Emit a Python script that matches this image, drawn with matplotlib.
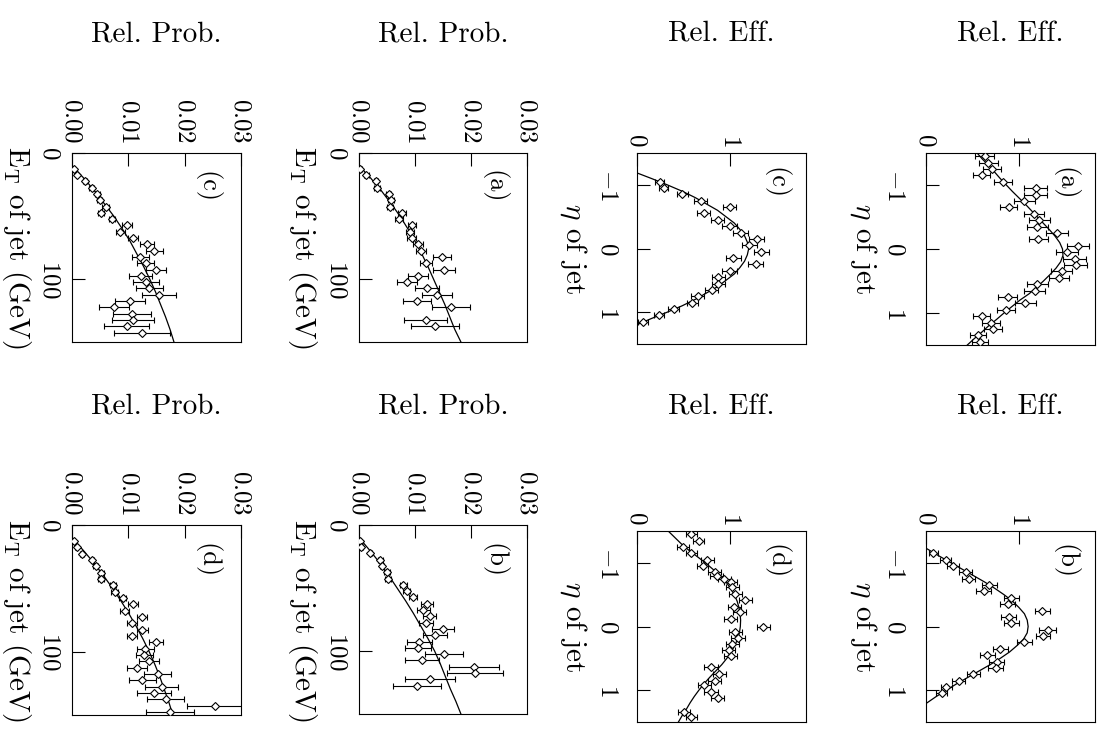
import matplotlib
matplotlib.use("Agg")
import matplotlib.pyplot as plt

plt.rcParams.update({
    "font.family": "cmr10",
    "mathtext.fontset": "cm",
    "axes.unicode_minus": False,
    "axes.linewidth": 0.8,
})

# ---------------- Relative probability vs jet E_T ----------------
prob_c_et = [12.5, 17.5, 22.5, 27.5, 32.5, 37.5, 42.5, 47.5, 52.5, 57.5, 62.5, 67.5, 72.5, 77.5,
             82.5, 87.5, 92.5, 97.5, 102.5, 107.5, 112.5, 117.5, 122.5, 127.5, 132.5, 137.5, 142.5]
prob_c = [0.0003, 0.0009, 0.0023, 0.0035, 0.0045, 0.0049, 0.0060, 0.0052, 0.0071, 0.0097, 0.0086,
          0.0109, 0.0133, 0.0146, 0.0121, 0.0131, 0.0149, 0.0122, 0.0131, 0.0137, 0.0154, 0.0103,
          0.0075, 0.0106, 0.0108, 0.0097, 0.0124]
prob_c_err = [0.0002, 0.0002, 0.0003, 0.0004, 0.0004, 0.0005, 0.0006, 0.0005, 0.0006, 0.0009, 0.0008,
              0.0009, 0.0012, 0.0015, 0.0015, 0.0015, 0.0018, 0.0020, 0.0023, 0.0024, 0.0030, 0.0027,
              0.0027, 0.0034, 0.0037, 0.0040, 0.0050]

prob_a_et = [12.5, 17.5, 22.5, 27.5, 32.5, 37.5, 42.5, 47.5, 52.5, 57.5, 62.5, 67.5, 72.5, 77.5,
             82.5, 87.5, 92.5, 97.5, 102.5, 107.5, 112.5, 117.5, 122.5, 132.5, 137.5]
prob_a = [0.0002, 0.0013, 0.0030, 0.0032, 0.0053, 0.0057, 0.0055, 0.0077, 0.0071, 0.0095, 0.0091,
          0.0094, 0.0105, 0.0110, 0.0149, 0.0120, 0.0152, 0.0106, 0.0085, 0.0121, 0.0139, 0.0103,
          0.0164, 0.0119, 0.0136]
prob_a_err = [0.0003, 0.0004, 0.0004, 0.0005, 0.0005, 0.0005, 0.0005, 0.0007, 0.0007, 0.0007, 0.0007,
              0.0008, 0.0009, 0.0009, 0.0016, 0.0011, 0.0020, 0.0018, 0.0018, 0.0021, 0.0027, 0.0025,
              0.0034, 0.0038, 0.0043]

prob_d_et = [12.5, 17.5, 22.5, 27.5, 32.5, 37.5, 42.5, 47.5, 52.5, 57.5, 62.5, 67.5, 72.5, 77.5,
             82.5, 87.5, 92.5, 97.5, 102.5, 107.5, 112.5, 117.5, 122.5, 127.5, 132.5, 137.5, 142.5, 147.5]
prob_d = [0.0003, 0.0008, 0.0018, 0.0036, 0.0042, 0.0052, 0.0052, 0.0073, 0.0076, 0.0090, 0.0108,
          0.0094, 0.0124, 0.0106, 0.0125, 0.0106, 0.0149, 0.0130, 0.0128, 0.0137, 0.0115, 0.0152,
          0.0125, 0.0159, 0.0146, 0.0166, 0.0254, 0.0174]
prob_d_err = [0.0002, 0.0002, 0.0003, 0.0003, 0.0004, 0.0004, 0.0005, 0.0005, 0.0006, 0.0006, 0.0009,
              0.0008, 0.0009, 0.0009, 0.0010, 0.0009, 0.0013, 0.0015, 0.0015, 0.0018, 0.0018, 0.0024,
              0.0024, 0.0030, 0.0030, 0.0033, 0.0050, 0.0043]

prob_b_et = [12.5, 17.5, 22.5, 27.5, 32.5, 37.5, 42.5, 47.5, 52.5, 57.5, 62.5, 67.5, 72.5, 77.5,
             82.5, 87.5, 92.5, 97.5, 102.5, 107.5, 112.5, 117.5, 122.5, 127.5]
prob_b = [0.0001, 0.0004, 0.0020, 0.0038, 0.0041, 0.0050, 0.0052, 0.0079, 0.0085, 0.0097, 0.0122,
          0.0115, 0.0126, 0.0120, 0.0150, 0.0136, 0.0108, 0.0106, 0.0152, 0.0112, 0.0205, 0.0207,
          0.0127, 0.0104]
prob_b_err = [0.0002, 0.0003, 0.0003, 0.0004, 0.0004, 0.0005, 0.0005, 0.0006, 0.0006, 0.0007, 0.0011,
              0.0011, 0.0011, 0.0012, 0.0020, 0.0021, 0.0022, 0.0023, 0.0034, 0.0030, 0.0045, 0.0050,
              0.0045, 0.0043]

# fitted curves (E_T in GeV)
fit_et = [10, 20, 30, 40, 50, 60, 70, 80, 90, 100, 110, 120, 130, 140, 150]
fit_prob_c = [0.0, 0.0021, 0.0040, 0.0057, 0.0074, 0.0089, 0.0103, 0.0115, 0.0127, 0.0138, 0.0148,
              0.0157, 0.0166, 0.0174, 0.0181]
fit_prob_a = [0.0, 0.0021, 0.0040, 0.0057, 0.0073, 0.0087, 0.0100, 0.0112, 0.0123, 0.0133, 0.0143,
              0.0153, 0.0162, 0.0171, 0.0182]
fit_prob_d = [0.0, 0.0020, 0.0039, 0.0056, 0.0072, 0.0087, 0.0101, 0.0114, 0.0126, 0.0137, 0.0147,
              0.0156, 0.0164, 0.0172, 0.0179]
fit_prob_b = [0.0, 0.0019, 0.0037, 0.0053, 0.0068, 0.0083, 0.0097, 0.0110, 0.0123, 0.0135, 0.0145,
              0.0154, 0.0163, 0.0173, 0.0182]

# ---------------- Relative efficiency vs jet eta ----------------
eff_c_eta = [-1.05, -0.95, -0.85, -0.75, -0.65, -0.55, -0.45, -0.35, -0.25, -0.15, -0.05, 0.05,
             0.15, 0.25, 0.35, 0.45, 0.55, 0.65, 0.75, 0.85, 0.95, 1.05, 1.15]
eff_c = [0.25, 0.29, 0.49, 0.69, 1.00, 0.72, 0.87, 1.00, 1.12, 1.29, 1.21, 1.34, 1.04, 1.28, 1.00,
         0.88, 0.88, 0.81, 0.66, 0.60, 0.40, 0.24, 0.07]
eff_c_err = [0.05, 0.05, 0.06, 0.07, 0.07, 0.07, 0.07, 0.08, 0.08, 0.08, 0.08, 0.08, 0.08, 0.08,
             0.08, 0.07, 0.07, 0.07, 0.07, 0.06, 0.06, 0.05, 0.05]

eff_a_eta = [-1.45, -1.35, -1.25, -1.15, -1.05, -0.95, -0.85, -0.75, -0.65, -0.55, -0.45, -0.35,
             -0.25, -0.15, -0.05, 0.05, 0.15, 0.25, 0.35, 0.45, 0.55, 0.65, 0.75, 0.85, 0.95, 1.05,
             1.15, 1.25, 1.35, 1.45]
eff_a = [0.63, 0.67, 0.71, 0.60, 0.83, 1.18, 1.18, 1.06, 0.89, 1.16, 1.22, 1.20, 1.41, 1.21, 1.64,
         1.52, 1.60, 1.61, 1.46, 1.43, 1.20, 1.17, 0.88, 1.07, 0.86, 0.60, 0.70, 0.72, 0.56, 0.58]
eff_a_err = [0.10, 0.10, 0.10, 0.09, 0.10, 0.12, 0.12, 0.11, 0.09, 0.11, 0.11, 0.11, 0.12, 0.10,
             0.12, 0.12, 0.12, 0.12, 0.11, 0.11, 0.11, 0.11, 0.10, 0.11, 0.10, 0.09, 0.10, 0.10,
             0.09, 0.09]

eff_d_eta = [-1.45, -1.35, -1.25, -1.15, -1.05, -0.95, -0.85, -0.80, -0.75, -0.70, -0.62, -0.51,
             -0.41, -0.31, -0.23, -0.11, 0.0, 0.09, 0.18, 0.28, 0.37, 0.47, 0.63, 0.74, 0.85, 0.92,
             1.03, 1.12, 1.34, 1.42]
eff_d = [0.59, 0.67, 0.50, 0.59, 0.76, 0.71, 0.84, 0.86, 0.94, 1.01, 1.03, 1.06, 1.17, 1.05, 1.11,
         1.01, 1.36, 1.06, 1.09, 1.03, 0.99, 1.01, 0.80, 0.89, 0.84, 0.73, 0.80, 0.87, 0.51, 0.59]
eff_d_err = [0.06, 0.06, 0.06, 0.06, 0.07, 0.06, 0.07, 0.07, 0.07, 0.07, 0.07, 0.07, 0.07, 0.07,
             0.07, 0.07, 0.07, 0.07, 0.07, 0.07, 0.07, 0.07, 0.07, 0.07, 0.07, 0.07, 0.07, 0.07,
             0.06, 0.06]

eff_b_eta = [-1.15, -1.05, -0.95, -0.85, -0.75, -0.65, -0.55, -0.45, -0.35, -0.25, -0.15, -0.05,
             0.05, 0.15, 0.25, 0.35, 0.45, 0.55, 0.65, 0.75, 0.85, 0.95, 1.05]
eff_b = [0.08, 0.21, 0.29, 0.43, 0.46, 0.68, 0.62, 0.92, 0.88, 1.25, 0.89, 0.92, 1.31, 1.26, 1.06,
         0.80, 0.66, 0.76, 0.75, 0.51, 0.35, 0.22, 0.17]
eff_b_err = [0.05, 0.06, 0.06, 0.07, 0.07, 0.08, 0.08, 0.08, 0.08, 0.08, 0.08, 0.08, 0.09, 0.08,
             0.08, 0.08, 0.08, 0.08, 0.08, 0.07, 0.07, 0.06, 0.06]

# fitted curves (eta)
fit_eff_c_eta = [-1.19, -1.1, -1.0, -0.9, -0.8, -0.7, -0.6, -0.5, -0.4, -0.3, -0.2, -0.1, 0.0,
                 0.1, 0.2, 0.3, 0.4, 0.5, 0.6, 0.7, 0.8, 0.9, 1.0, 1.1, 1.2]
fit_eff_c = [0.0, 0.16, 0.33, 0.49, 0.63, 0.75, 0.87, 0.96, 1.05, 1.11, 1.16, 1.19, 1.205, 1.19,
             1.16, 1.11, 1.05, 0.96, 0.87, 0.75, 0.63, 0.49, 0.33, 0.16, 0.0]

fit_eff_a_eta = [-1.5, -1.4, -1.3, -1.2, -1.1, -1.0, -0.9, -0.8, -0.7, -0.6, -0.5, -0.4, -0.3,
                 -0.2, -0.1, 0.0, 0.1, 0.2, 0.3, 0.4, 0.5, 0.6, 0.7, 0.8, 0.9, 1.0, 1.1, 1.2, 1.3,
                 1.4, 1.5]
fit_eff_a = [0.55, 0.61, 0.68, 0.74, 0.80, 0.865, 0.93, 1.00, 1.07, 1.135, 1.20, 1.265, 1.33, 1.39,
             1.44, 1.47, 1.475, 1.45, 1.40, 1.335, 1.265, 1.19, 1.11, 1.01, 0.925, 0.84, 0.76,
             0.675, 0.60, 0.52, 0.445]

fit_eff_d_eta = [-1.5, -1.4, -1.3, -1.2, -1.1, -1.0, -0.9, -0.8, -0.7, -0.6, -0.5, -0.4, -0.3,
                 -0.2, -0.1, 0.0, 0.1, 0.2, 0.3, 0.4, 0.5, 0.6, 0.7, 0.8, 0.9, 1.0, 1.1, 1.2, 1.3,
                 1.4, 1.5]
fit_eff_d = [0.34, 0.41, 0.48, 0.56, 0.65, 0.74, 0.82, 0.90, 0.96, 1.01, 1.05, 1.08, 1.10, 1.112,
             1.118, 1.115, 1.105, 1.085, 1.055, 1.015, 0.97, 0.915, 0.85, 0.785, 0.725, 0.67,
             0.62, 0.575, 0.535, 0.49, 0.45]

fit_eff_b_eta = [-1.23, -1.1, -1.0, -0.9, -0.8, -0.7, -0.6, -0.5, -0.4, -0.3, -0.2, -0.1, 0.0,
                 0.1, 0.2, 0.3, 0.4, 0.5, 0.6, 0.7, 0.8, 0.9, 1.0, 1.1, 1.21]
fit_eff_b = [0.0, 0.15, 0.27, 0.39, 0.51, 0.63, 0.74, 0.84, 0.93, 1.00, 1.06, 1.09, 1.10, 1.09,
             1.05, 0.98, 0.90, 0.80, 0.69, 0.57, 0.45, 0.33, 0.22, 0.11, 0.0]

prob_ticks = [0.0, 0.01, 0.02, 0.03]
prob_tick_labels = [r"$0.00$", r"$0.01$", r"$0.02$", r"$0.03$"]
et_ticks = [0, 100]
et_tick_labels = [r"$0$", r"$100$"]
eff_ticks = [0, 1]
eff_tick_labels = [r"$0$", r"$1$"]
eta_ticks = [-1, 0, 1]
eta_tick_labels = [r"$-1$", r"$0$", r"$1$"]

W, H = 1103, 731
fig = plt.figure(figsize=(W / 100, H / 100), dpi=100)


def box(left, top, right, bottom):
    return [left / W, 1 - bottom / H, (right - left) / W, (bottom - top) / H]


def panel(rect, xs, ys, errs, fit_x, fit_y, xlim, ylim, xticks, xlabels, yticks, ylabels,
          letter, letter_pos, xpad, ypad):
    ax = fig.add_axes(rect)
    ax.plot(fit_x, fit_y, color="black", lw=0.9, zorder=2)
    ax.errorbar(xs, ys, xerr=errs, fmt="D", ms=4, mfc="white", mec="black", mew=0.8,
                ecolor="black", elinewidth=0.8, capsize=2.4, capthick=0.8, zorder=3)
    ax.set_xlim(*xlim)
    ax.set_ylim(ylim[1], ylim[0])
    ax.xaxis.set_ticks_position("top")
    ax.yaxis.set_ticks_position("left")
    ax.set_xticks(xticks)
    ax.set_xticklabels(xlabels, rotation=-90, ha="center", va="bottom")
    ax.set_yticks(yticks)
    ax.set_yticklabels(ylabels, rotation=-90, ha="right", va="center")
    ax.tick_params(axis="x", direction="in", length=9.5, width=0.8, labelsize=18, pad=xpad)
    ax.tick_params(axis="y", direction="in", length=9.5, width=0.8, labelsize=18, pad=ypad)
    ax.text(letter_pos[0], letter_pos[1], letter, transform=ax.transAxes, rotation=-90,
            ha="center", va="center", fontsize=19)
    return ax


prob_xlim = (0.0, 0.03)
et_lim = (0, 150)
eff_xlim = (0.0, 1.82)
eta_lim = (-1.5, 1.5)

# Rel. Prob. panels
panel(box(72, 153, 241, 342), prob_c, prob_c_et, prob_c_err, fit_prob_c, fit_et,
      prob_xlim, et_lim, prob_ticks, prob_tick_labels, et_ticks, et_tick_labels,
      "(c)", (0.80, 0.82), 7, 8.5)
panel(box(359, 153, 527, 342), prob_a, prob_a_et, prob_a_err, fit_prob_a, fit_et,
      prob_xlim, et_lim, prob_ticks, prob_tick_labels, et_ticks, et_tick_labels,
      "(a)", (0.80, 0.82), 7, 8.5)
panel(box(72, 525, 241, 715), prob_d, prob_d_et, prob_d_err, fit_prob_d, fit_et,
      prob_xlim, et_lim, prob_ticks, prob_tick_labels, et_ticks, et_tick_labels,
      "(d)", (0.80, 0.81), 7, 8.5)
panel(box(359, 525, 527, 714), prob_b, prob_b_et, prob_b_err, fit_prob_b, fit_et,
      prob_xlim, et_lim, prob_ticks, prob_tick_labels, et_ticks, et_tick_labels,
      "(b)", (0.80, 0.81), 7, 8.5)

# Rel. Eff. panels
panel(box(636.5, 153, 806, 344), eff_c, eff_c_eta, eff_c_err, fit_eff_c, fit_eff_c_eta,
      eff_xlim, eta_lim, eff_ticks, eff_tick_labels, eta_ticks, eta_tick_labels,
      "(c)", (0.825, 0.84), 4.5, 13)
panel(box(926, 153, 1095, 345), eff_a, eff_a_eta, eff_a_err, fit_eff_a, fit_eff_a_eta,
      eff_xlim, eta_lim, eff_ticks, eff_tick_labels, eta_ticks, eta_tick_labels,
      "(a)", (0.82, 0.84), 4.5, 15)
panel(box(636.5, 531, 806, 722), eff_d, eff_d_eta, eff_d_err, fit_eff_d, fit_eff_d_eta,
      eff_xlim, eta_lim, eff_ticks, eff_tick_labels, eta_ticks, eta_tick_labels,
      "(d)", (0.825, 0.84), 4.5, 13)
panel(box(926, 531, 1095, 722), eff_b, eff_b_eta, eff_b_err, fit_eff_b, fit_eff_b_eta,
      eff_xlim, eta_lim, eff_ticks, eff_tick_labels, eta_ticks, eta_tick_labels,
      "(b)", (0.82, 0.84), 4.5, 15)

# headings above each column
for cx, base, txt in [(156.5, 42, "Rel. Prob."), (443, 42, "Rel. Prob."),
                      (721, 42, "Rel. Eff."), (1010.5, 42, "Rel. Eff."),
                      (156.5, 413, "Rel. Prob."), (443, 413, "Rel. Prob."),
                      (721, 415, "Rel. Eff."), (1010.5, 415, "Rel. Eff.")]:
    fig.text(cx / W, 1 - base / H, txt, ha="center", va="baseline", fontsize=21)

# rotated axis titles
et_title = r"$\mathrm{E_T}$ of jet (GeV)"
eta_title = r"$\eta$ of jet"
for cx, cy in [(16, 247.5), (302, 247.5), (16, 620), (302, 620)]:
    fig.text(cx / W, 1 - cy / H, et_title, rotation=-90, ha="center", va="center", fontsize=21)
for cx, cy in [(573, 248.5), (863, 248.5), (573, 626.5), (863, 626.5)]:
    fig.text(cx / W, 1 - cy / H, eta_title, rotation=-90, ha="center", va="center", fontsize=21)

fig.savefig("out.png", dpi=100)
